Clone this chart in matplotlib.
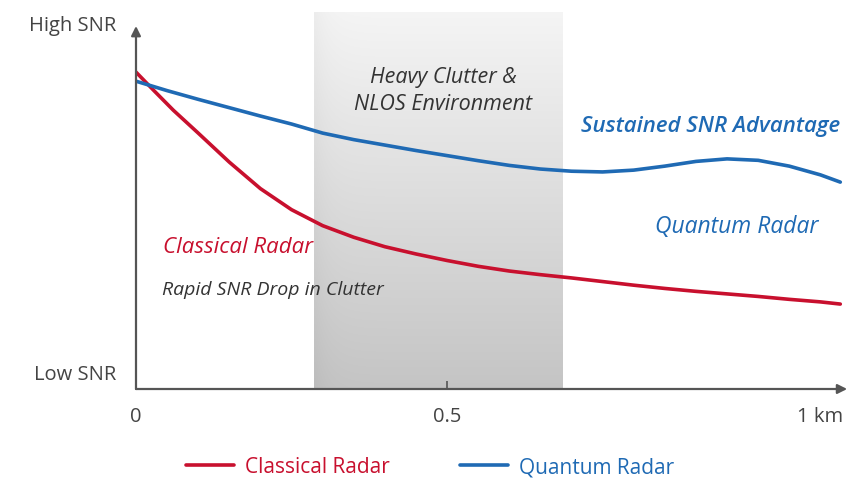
import numpy as np
import matplotlib
matplotlib.use("Agg")
import matplotlib.pyplot as plt

plt.rcParams['font.family'] = ['Open Sans', 'DejaVu Sans']

# distance along the chart (0.5 tick sits at 0.5), SNR in 0..1 (low..high)
classical_x = [0.0, 0.03, 0.06, 0.10, 0.15, 0.20, 0.25, 0.30, 0.35, 0.40, 0.45, 0.50,
               0.55, 0.60, 0.65, 0.70, 0.75, 0.80, 0.85, 0.90, 0.95, 1.00, 1.05, 1.10, 1.132]
classical_y = [0.873, 0.820, 0.768, 0.705, 0.625, 0.552, 0.494, 0.450, 0.418, 0.392, 0.372, 0.354,
               0.338, 0.325, 0.315, 0.306, 0.296, 0.286, 0.277, 0.269, 0.262, 0.255, 0.247, 0.240, 0.234]

quantum_x = [0.0, 0.05, 0.10, 0.15, 0.20, 0.25, 0.30, 0.35, 0.40, 0.45, 0.50, 0.55,
             0.60, 0.65, 0.70, 0.75, 0.80, 0.85, 0.90, 0.95, 1.00, 1.05, 1.10, 1.132]
quantum_y = [0.848, 0.822, 0.798, 0.775, 0.752, 0.730, 0.705, 0.687, 0.672, 0.657, 0.643, 0.629,
             0.616, 0.606, 0.600, 0.598, 0.603, 0.614, 0.627, 0.634, 0.630, 0.614, 0.590, 0.570]

clutter_zone = (0.286, 0.685)
x_ticks = [0.0, 0.5, 1.10]
x_tick_labels = ["0", "0.5", "1 km"]

red = "#c8102e"
blue = "#1f6ab4"
axis_col = "#555555"
text_dark = "#333333"

fig = plt.figure(figsize=(8.49, 4.89), dpi=100)
ax = fig.add_axes([136/849, 99/489, 713/849, 377.5/489])
ax.set_xlim(0, 1.146)
ax.set_ylim(0, 1.04)

# clutter band, light at the top and darker towards the bottom
ny, nx = 200, 60
v = np.linspace(0.77, 0.96, ny)[:, None] * np.ones((1, nx))
edge = np.linspace(0, 1, nx)[None, :]
v = v - 0.03 * np.exp(-edge / 0.05)
img = np.dstack([v, v, v])
ax.imshow(img, extent=[clutter_zone[0], clutter_zone[1], 0, 1.04],
          origin="lower", aspect="auto", zorder=0, interpolation="bilinear")

ax.plot(classical_x, classical_y, color=red, lw=2.6, solid_capstyle="round",
        solid_joinstyle="round", label="Classical Radar", zorder=3)
ax.plot(quantum_x, quantum_y, color=blue, lw=2.6, solid_capstyle="round",
        solid_joinstyle="round", label="Quantum Radar", zorder=3)

for s in ax.spines.values():
    s.set_visible(False)
ax.annotate("", xy=(0, 1.0), xytext=(0, 0), annotation_clip=False,
            arrowprops=dict(arrowstyle="-|>", color=axis_col, lw=1.6, mutation_scale=14, shrinkA=0, shrinkB=0))
ax.annotate("", xy=(1.143, 0), xytext=(0, 0), annotation_clip=False,
            arrowprops=dict(arrowstyle="-|>", color=axis_col, lw=1.6, mutation_scale=14, shrinkA=0, shrinkB=0))

ax.set_xticks(x_ticks)
ax.set_xticklabels(x_tick_labels, fontsize=14.5, color="#444444")
ax.tick_params(axis="x", direction="in", length=6, width=1.2, color=axis_col, pad=12)
ax.xaxis.get_major_ticks()[0].tick1line.set_visible(False)
ax.xaxis.get_major_ticks()[2].tick1line.set_visible(False)

ax.set_yticks([0.047, 1.01])
ax.set_yticklabels(["Low SNR", "High SNR"], fontsize=14.5, color="#444444")
ax.tick_params(axis="y", length=0, pad=14)

ax.text(0.494, 0.862, "Heavy Clutter &", ha="center", va="center", style="italic",
        fontsize=15.5, color=text_dark)
ax.text(0.494, 0.786, "NLOS Environment", ha="center", va="center", style="italic",
        fontsize=15.5, color=text_dark)
ax.text(1.131, 0.725, "Sustained SNR Advantage", ha="right", va="center", style="italic",
        fontweight="semibold", fontsize=16, color=blue)
ax.text(1.097, 0.450, "Quantum Radar", ha="right", va="center", style="italic",
        fontsize=16.5, color=blue)
ax.text(0.043, 0.392, "Classical Radar", ha="left", va="center", style="italic",
        fontsize=16, color=red)
ax.text(0.041, 0.275, "Rapid SNR Drop in Clutter", ha="left", va="center", style="italic",
        fontsize=14, color=text_dark)

leg = fig.legend(loc="center", bbox_to_anchor=(430/849, 1 - 468/489), ncol=2, frameon=False,
                 fontsize=15, handlelength=2.3, handletextpad=0.5, columnspacing=3.4)
for t, c in zip(leg.get_texts(), [red, blue]):
    t.set_color(c)

fig.savefig("out.png", dpi=100)
